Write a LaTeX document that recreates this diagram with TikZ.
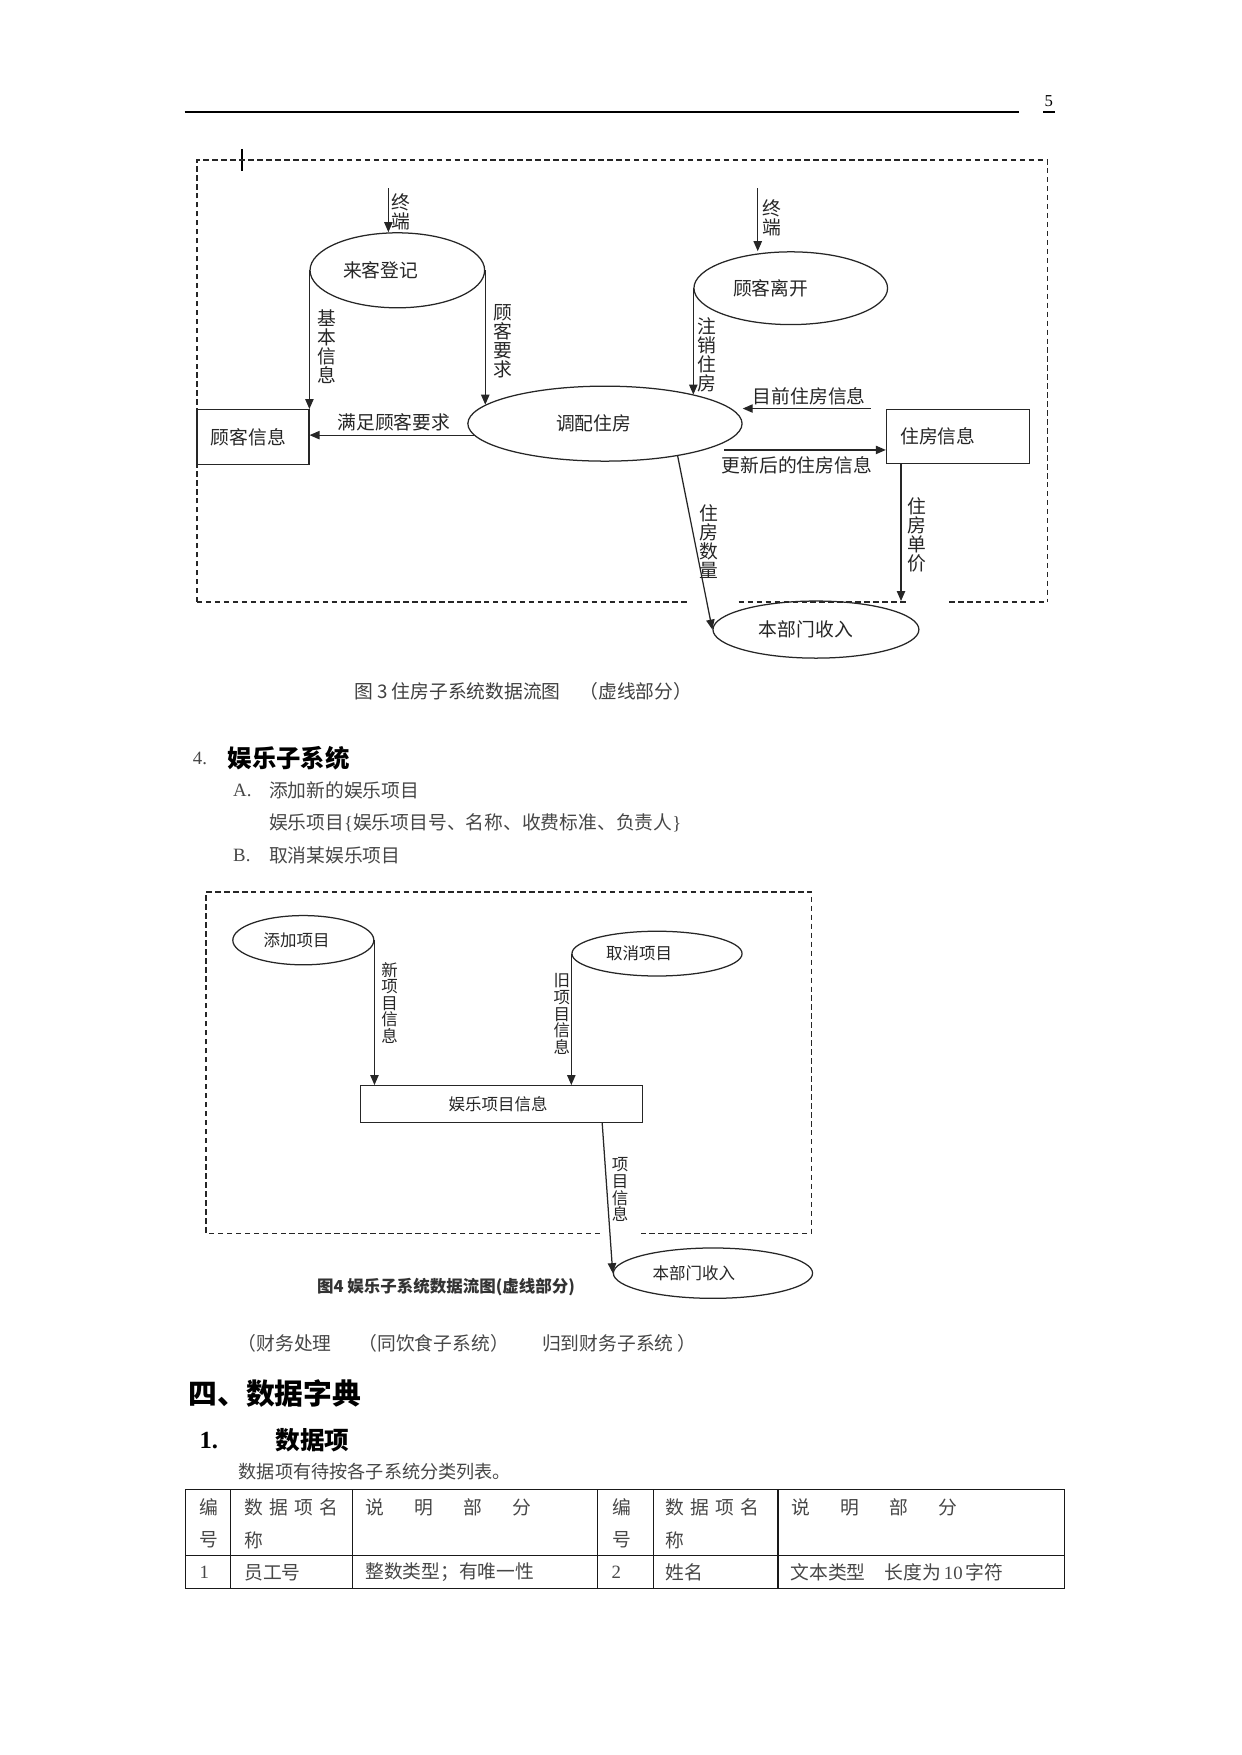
\documentclass[tikz,border=0pt]{standalone}
\usepackage{fontspec}
\setmainfont{Liberation Serif}
\newfontfamily\cjk{Noto Sans CJK SC}
\usetikzlibrary{arrows.meta,shapes.geometric}
\newdimen\pxu \pxu=0.5365pt
\tikzset{
	>={Triangle[length=4.8pt,width=4pt]},
	frame/.style={black!85, line width=0.7pt, dash pattern=on 2.6pt off 1.7pt},
	proc/.style={ellipse, draw=black!85, line width=0.6pt, inner sep=0pt, text=black!85, font=\cjk\fontsize{9}{9}\selectfont},
	store/.style={rectangle, draw=black!85, line width=0.6pt, inner sep=0pt, text=black!85, font=\cjk\fontsize{9}{9}\selectfont},
	small/.style={font=\cjk\fontsize{7.9}{8}\selectfont},
	flow/.style={->, black!85, line width=0.6pt},
	flabel/.style={inner sep=0pt, text=black!85, font=\cjk\fontsize{9}{9}\selectfont},
	vlabel/.style={flabel, align=center, font=\cjk\fontsize{9}{9.1}\selectfont},
	vsmall/.style={flabel, align=center, font=\cjk\fontsize{7.9}{7.95}\selectfont},
	caption/.style={anchor=west, inner sep=0pt, text=black!75, font=\cjk\fontsize{9}{9}\selectfont},
	body/.style={anchor=west, inner sep=0pt, text=black!72, font=\cjk\fontsize{9}{9}\selectfont},
	latin/.style={anchor=west, inner sep=0pt, text=black!72, font=\rmfamily\fontsize{9}{9}\selectfont},
	tline/.style={black!90, line width=0.6pt},
}
\begin{document}
\begin{tikzpicture}[x=0.5365pt, y=-0.5365pt]
	\useasboundingbox[fill=white] (0,0) rectangle (1109,1568);
	
	% page header
	\draw[line width=1.1pt] (165,100) -- (910,100);
	\node[inner sep=0pt, font=\rmfamily\fontsize{8}{8}\selectfont] (pageno) at (937,90) {5};
	\draw[line width=0.9pt] (932,100) -- (943,100);
	\draw[line width=1pt] (216,133) -- (216,153);
	
	% figure 3: dashed boundary
	\draw[frame] (176,538) -- (176,143) -- (936,143) -- (936,538);
	\draw[frame] (176,538) -- (616,538);
	\draw[frame] (660,538) -- (812,538);
	\draw[frame] (848,538) -- (936,538);
	
	% figure 3: processes and stores
	\node[proc, minimum width=156*\pxu, minimum height=67*\pxu] (laike) at (355,241.5) {来客登记\hspace*{30\pxu}};
	\node[proc, minimum width=173*\pxu, minimum height=65*\pxu] (likai) at (706.5,257.5) {顾客离开\hspace*{36\pxu}};
	\node[proc, minimum width=245*\pxu, minimum height=67*\pxu] (tiaopei) at (540.5,378.5) {调配住房\hspace*{20\pxu}};
	\node[proc, minimum width=184*\pxu, minimum height=51*\pxu] (shouru) at (729,562.5) {本部门收入\hspace*{18\pxu}};
	\node[store, minimum width=100*\pxu, minimum height=49*\pxu] (guke) at (226,390.5) {顾客信息\hspace*{8\pxu}};
	\node[store, minimum width=128*\pxu, minimum height=48*\pxu] (zhufang) at (856,390) {住房信息\hspace*{36\pxu}};
	
	% figure 3: flows
	\coordinate (zd1) at (347,168);
	\coordinate (zd2) at (677,168);
	\coordinate (mq) at (778,365);
	\coordinate (gx) at (647,402);
	\coordinate (dj) at (805,537);
	\draw[flow] (zd1) -- (zd1 |- laike.north);
	\draw[flow] (zd2) -- (zd2 |- likai.north);
	\draw[flow] (laike.west) -- (laike.west |- guke.north);
	\draw[flow] (laike.east) -- (laike.east |- tiaopei.171);
	\draw[flow] (likai.west) -- (likai.west |- tiaopei.18);
	\draw[flow] (mq) -- (mq -| tiaopei.east);
	\draw[flow] (gx) -- (gx -| zhufang.west);
	\draw[flow] (tiaopei.185) -- (tiaopei.185 -| guke.east);
	\draw[flow] (tiaopei.-24) -- (shouru.west);
	\draw[flow] (dj |- zhufang.south) -- (dj);
	
	% figure 3: flow labels
	\node[vlabel] (lzd1) at (358,189.5) {终\\端};
	\node[vlabel] (lzd2) at (690,195) {终\\端};
	\node[vlabel] (ljb) at (292,309.5) {基\\本\\信\\息};
	\node[vlabel] (lyq) at (449,305) {顾\\客\\要\\求};
	\node[vlabel] (lzx) at (632,317) {注\\销\\住\\房};
	\node[vlabel] (lsl) at (633,484) {住\\房\\数\\量};
	\node[vlabel] (ldj) at (819,478) {住\\房\\单\\价};
	\node[flabel] (lmz) at (352,377) {满足顾客要求};
	\node[flabel] (lmq) at (723,354) {目前住房信息};
	\node[flabel] (lgx) at (712,416) {更新后的住房信息};
	
	\node[caption] (cap3) at (316,618) {图 3 住房子系统数据流图　（虚线部分）};
	
	% section 4
	\node[latin] (n4) at (172,678) {4.};
	\node[anchor=west, inner sep=0pt, font=\cjk\bfseries\fontsize{11.7}{12}\selectfont] (h4) at (203,677) {娱乐子系统};
	\node[latin] (ia) at (208,706) {A.};
	\node[body] (ta) at (240,706) {添加新的娱乐项目};
	\node[body] (tx) at (240,735) {娱乐项目{\rmfamily\{}娱乐项目号、名称、收费标准、负责人{\rmfamily\}}};
	\node[latin] (ib) at (208,764) {B.};
	\node[body] (tb) at (240,764) {取消某娱乐项目};
	
	% figure 4: dashed boundary
	\draw[frame] (536,1102) -- (184,1102) -- (184,797) -- (725,797) -- (725,1102) -- (573,1102);
	
	% figure 4: processes and store
	\node[proc, small, minimum width=126*\pxu, minimum height=44*\pxu] (tianjia) at (271,840) {添加项目\hspace*{12\pxu}};
	\node[proc, small, minimum width=152*\pxu, minimum height=40*\pxu] (quxiao) at (587,852) {取消项目\hspace*{32\pxu}};
	\node[store, small, minimum width=252*\pxu, minimum height=33*\pxu] (xinxi) at (448,986.5) {娱乐项目信息\hspace*{6\pxu}};
	\node[proc, small, minimum width=178*\pxu, minimum height=45*\pxu] (shouru2) at (637,1137.5) {本部门收入\hspace*{34\pxu}};
	
	% figure 4: flows
	\coordinate (xm) at (538,1003);
	\draw[flow] (tianjia.east) -- (tianjia.east |- xinxi.north);
	\draw[flow] (quxiao.west) -- (quxiao.west |- xinxi.north);
	\draw[flow] (xm) -- (shouru2.west);
	\node[vsmall] (lxin) at (348,896) {新\\项\\目\\信\\息};
	\node[vsmall] (ljiu) at (502,906) {旧\\项\\目\\信\\息};
	\node[vsmall] (lxm) at (554,1063) {项\\目\\信\\息};
	
	\node[anchor=west, inner sep=0pt, text=black!80, font=\cjk\bfseries\fontsize{7.9}{8}\selectfont] (cap4) at (283,1150) {图4 娱乐子系统数据流图(虚线部分)};
	
	% remarks and section headings
	\node[body] (r1) at (212,1200) {（财务处理};
	\node[body] (r2) at (320,1200) {（同饮食子系统）};
	\node[body] (r3) at (484,1200) {归到财务子系统 ）};
	\node[anchor=west, inner sep=0pt, font=\cjk\bfseries\fontsize{13.8}{14}\selectfont] (h5) at (168,1245) {四、数据字典};
	\node[anchor=west, inner sep=0pt, font=\rmfamily\bfseries\fontsize{11.8}{12}\selectfont] (n1) at (178,1287) {1.};
	\node[anchor=west, inner sep=0pt, font=\cjk\bfseries\fontsize{11.8}{12}\selectfont] (h6) at (246,1287) {数据项};
	\node[body, font=\cjk\fontsize{8.7}{9}\selectfont] (t6) at (213,1315) {数据项有待按各子系统分类列表。};
	
	% data item table
	\draw[tline] (166,1331) rectangle (951,1419);
	\draw[tline] (166,1390) -- (951,1390);
	\foreach \cx in {206,315,534,584,695}
		\draw[tline] (\cx,1331) -- (\cx,1419);
	\node[body] (c1a) at (178,1347) {编};
	\node[body] (c1b) at (178,1376) {号};
	\node[body] (c2a) at (218,1347) {数\hspace{3pt}据\hspace{3pt}项\hspace{3pt}名};
	\node[body] (c2b) at (218,1376) {称};
	\node[body] (c3a) at (326,1347) {说\hspace{14.5pt}明\hspace{14.5pt}部\hspace{14.5pt}分};
	\node[body] (c4a) at (547,1347) {编};
	\node[body] (c4b) at (547,1376) {号};
	\node[body] (c5a) at (594,1347) {数\hspace{3pt}据\hspace{3pt}项\hspace{3pt}名};
	\node[body] (c5b) at (594,1376) {称};
	\node[body] (c6a) at (707,1347) {说\hspace{14.5pt}明\hspace{14.5pt}部\hspace{14.5pt}分};
	\node[latin] (d1) at (178,1405) {1};
	\node[body] (d2) at (218,1405) {员工号};
	\node[body] (d3) at (326,1405) {整数类型；有唯一性};
	\node[latin] (d4) at (546,1405) {2};
	\node[body] (d5) at (594,1405) {姓名};
	\node[body] (d6) at (706,1405) {文本类型　长度为{\rmfamily\,10\,}字符};
\end{tikzpicture}
\end{document}
